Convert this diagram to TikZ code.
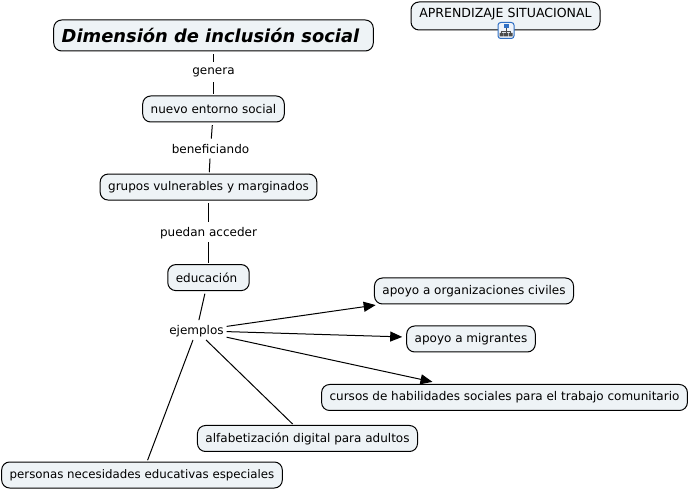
\documentclass[tikz,border=0pt]{standalone}
\usepackage{fontspec}
\setmainfont{DejaVu Sans}
\usetikzlibrary{arrows.meta,positioning}

\definecolor{boxfill}{HTML}{EEF3F6}
\definecolor{iconblue}{HTML}{2F6FC4}

\begin{document}
\begin{tikzpicture}[
  x=0.75pt, y=-0.75pt,
  node distance=9pt,
  concept/.style={rectangle, rounded corners=6pt, draw=black, fill=boxfill,
                  line width=0.75pt, minimum height=19.5pt, inner xsep=6pt,
                  inner ysep=0pt, font=\fontsize{9}{11}\selectfont},
  title/.style={concept, minimum height=23.25pt, minimum width=239.25pt,
                font=\fontsize{13.4}{16}\bfseries\itshape\selectfont},
  link/.style={inner sep=0pt, minimum height=13.5pt, outer xsep=2.25pt,
               font=\fontsize{9}{11}\selectfont},
  line/.style={line width=0.75pt, black},
  arrow/.style={-{Triangle[length=9pt,width=7.5pt]}, line width=0.75pt, black,
                shorten >=3pt}
]
\useasboundingbox (0,0) rectangle (689,491);

% Main column
\node[title] at (213.5,35.5)            (dim)  {Dimensión de inclusión social\kern4.5pt};
\node[link, below=9pt of dim]           (gen)  {genera};
\node[concept, below=10.1pt of gen]     (nes)  {nuevo entorno social};
\node[link, below=13.15pt of nes, xshift=-2.25pt] (ben) {beneficiando};
\node[concept, below=11.25pt of ben, xshift=-1.5pt] (gvm) {grupos vulnerables y marginados};
\node[link, below=17.25pt of gvm]       (pue)  {puedan acceder};
\node[concept, below=16.5pt of pue]     (edu)  {educación\kern3pt};
\node[link, below=22.75pt of edu, xshift=-9pt] (eje) {ejemplos};

% Examples
\node[concept] at (474,291)             (org)  {apoyo a organizaciones civiles};
\node[concept] at (471,339)             (mig)  {apoyo a migrantes};
\node[concept] at (504.5,397.5)         (cur)  {cursos de habilidades sociales para el trabajo comunitario};
\node[concept] at (307.5,438.5)         (alf)  {alfabetización digital para adultos};
\node[concept, font=\fontsize{8.85}{11}\selectfont] at (142,475) (per) {personas necesidades educativas especiales};

% Linked map
\node[concept, minimum width=141.75pt, minimum height=21pt, text height=7pt, text depth=4.5pt,
      font=\fontsize{9.4}{11}\selectfont] at (505.5,16) (sit) {APRENDIZAJE SITUACIONAL};
\node[rectangle, rounded corners=2pt, draw=iconblue, fill=iconblue!8, line width=0.75pt,
      minimum size=12pt, inner sep=0pt] at (506,30.5) (ico) {};
\draw[line width=0.5pt, black!70] (501.5,31) -- (510.5,31) (501.5,31) -- (501.5,33) (510.5,31) -- (510.5,33) (506,28) -- (506,34);
\fill[iconblue] (503.5,24.5) rectangle (508.5,28.5);
\fill[black!70] (499.5,33) rectangle (503.5,36.5) (504.2,33) rectangle (507.8,36.5) (508.5,33) rectangle (512.5,36.5);

% Plain links
\draw[line, shorten <=2pt, shorten >=1pt] (dim) -- (gen);
\draw[line, shorten >=1pt]  (gen) -- (nes);
\draw[line, shorten <=2pt, shorten >=1pt] (nes) -- (ben);
\draw[line, shorten >=1pt]  (ben) -- (gvm);
\draw[line, shorten <=2pt, shorten >=1pt] (gvm) -- (pue);
\draw[line, shorten >=1pt]  (pue) -- (edu);
\draw[line, shorten <=2pt, shorten >=1pt] (edu) -- (eje);
\draw[line, shorten >=1pt]  (eje) -- (alf);
\draw[line, shorten >=1pt]  (eje) -- (per);

% Arrows
\draw[arrow] (eje) -- (org);
\draw[arrow] (eje) -- (mig);
\draw[arrow, shorten >=7.5pt] (eje) -- (cur);

\end{tikzpicture}
\end{document}
